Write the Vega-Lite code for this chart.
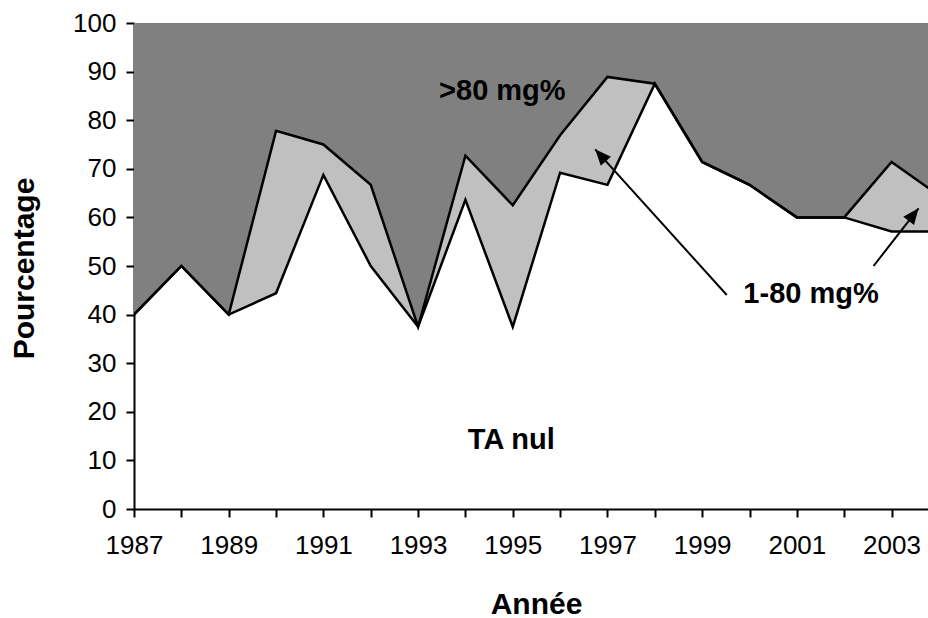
{
  "$schema": "https://vega.github.io/schema/vega-lite/v6.json",
  "width": 794,
  "height": 486,
  "autosize": {"type": "none"},
  "padding": {"left": 134, "top": 23, "right": 0, "bottom": 109},
  "background": "white",
  "config": {
    "view": {"stroke": null},
    "font": "Liberation Sans",
    "axis": {
      "grid": false,
      "domainColor": "black",
      "domainWidth": 2,
      "tickColor": "black",
      "tickWidth": 2,
      "tickSize": 8,
      "labelColor": "black",
      "labelFont": "Liberation Sans",
      "labelFontSize": 26,
      "titleColor": "black",
      "titleFont": "Liberation Sans",
      "titleFontSize": 30,
      "titleFontWeight": "bold",
      "labelOverlap": false,
      "labelFlush": false
    },
    "axisX": {
      "values": [1987, 1988, 1989, 1990, 1991, 1992, 1993, 1994, 1995, 1996, 1997, 1998, 1999, 2000, 2001, 2002, 2003],
      "labelExpr": "datum.value % 2 == 1 ? '' + datum.value : ''",
      "labelPadding": 15,
      "titleX": 402,
      "titleY": 104,
      "titleAlign": "center",
      "titleBaseline": "alphabetic"
    },
    "axisY": {
      "values": [0, 10, 20, 30, 40, 50, 60, 70, 80, 90, 100],
      "labelPadding": 10,
      "titleX": -101,
      "titleY": 245,
      "titleAngle": -90,
      "titleAlign": "center",
      "titleBaseline": "alphabetic"
    }
  },
  "datasets": {
    "series": [
      {"year": 1987, "nul": 40, "mid": 40},
      {"year": 1988, "nul": 50, "mid": 50},
      {"year": 1989, "nul": 40, "mid": 40},
      {"year": 1990, "nul": 44.4, "mid": 77.8},
      {"year": 1991, "nul": 68.75, "mid": 75},
      {"year": 1992, "nul": 50, "mid": 66.7},
      {"year": 1993, "nul": 37.5, "mid": 37.5},
      {"year": 1994, "nul": 63.6, "mid": 72.7},
      {"year": 1995, "nul": 37.5, "mid": 62.5},
      {"year": 1996, "nul": 69.2, "mid": 76.9},
      {"year": 1997, "nul": 66.7, "mid": 88.9},
      {"year": 1998, "nul": 87.5, "mid": 87.5},
      {"year": 1999, "nul": 71.4, "mid": 71.4},
      {"year": 2000, "nul": 66.7, "mid": 66.7},
      {"year": 2001, "nul": 60, "mid": 60},
      {"year": 2002, "nul": 60, "mid": 60},
      {"year": 2003, "nul": 57.1, "mid": 71.4},
      {"year": 2004, "nul": 57.1, "mid": 64.5}
    ],
    "arrows": [
      {"id": "a1", "year": 1999.52, "value": 44.03, "year2": 1996.74, "value2": 74.01},
      {"id": "a2", "year": 2002.62, "value": 50.0, "year2": 2003.57, "value2": 61.87}
    ],
    "labels": [
      {"label": ">80 mg%", "year": 1994.78, "value": 84.16},
      {"label": "TA nul", "year": 1994.97, "value": 12.28},
      {"label": "1-80 mg%", "year": 2001.3, "value": 42.45}
    ]
  },
  "layer": [
    {
      "data": {"name": "series"},
      "mark": {"type": "area", "fill": "#808080", "clip": true},
      "encoding": {
        "x": {"field": "year", "type": "quantitative", "title": "Année", "scale": {"domain": [1987, 2003.77], "nice": false, "zero": false}},
        "y": {"field": "mid", "type": "quantitative", "title": "Pourcentage", "scale": {"domain": [0, 100], "nice": false}},
        "y2": {"datum": 100}
      }
    },
    {
      "data": {"name": "series"},
      "mark": {"type": "area", "fill": "#c0c0c0", "clip": true},
      "encoding": {
        "x": {"field": "year", "type": "quantitative", "title": "Année"},
        "y": {"field": "nul", "type": "quantitative", "title": "Pourcentage"},
        "y2": {"field": "mid"}
      }
    },
    {
      "data": {"name": "series"},
      "mark": {"type": "line", "color": "black", "strokeWidth": 2.5, "clip": true},
      "encoding": {
        "x": {"field": "year", "type": "quantitative", "title": "Année"},
        "y": {"field": "mid", "type": "quantitative", "title": "Pourcentage"}
      }
    },
    {
      "data": {"name": "series"},
      "mark": {"type": "line", "color": "black", "strokeWidth": 2.5, "clip": true},
      "encoding": {
        "x": {"field": "year", "type": "quantitative", "title": "Année"},
        "y": {"field": "nul", "type": "quantitative", "title": "Pourcentage"}
      }
    },
    {
      "mark": {"type": "rule", "color": "black", "strokeWidth": 2},
      "encoding": {"y": {"datum": 100}}
    },
    {
      "data": {"name": "arrows"},
      "mark": {"type": "rule", "color": "black", "strokeWidth": 2},
      "encoding": {
        "x": {"field": "year", "type": "quantitative", "title": "Année"},
        "y": {"field": "value", "type": "quantitative", "title": "Pourcentage"},
        "x2": {"field": "year2"},
        "y2": {"field": "value2"}
      }
    },
    {
      "data": {"name": "arrows"},
      "transform": [{"filter": "datum.id == 'a1'"}],
      "mark": {"type": "point", "shape": "M0,0 L0.85,2 L-0.85,2 Z", "filled": true, "color": "black", "opacity": 1, "size": 256, "angle": 318},
      "encoding": {
        "x": {"field": "year2", "type": "quantitative", "title": "Année"},
        "y": {"field": "value2", "type": "quantitative", "title": "Pourcentage"}
      }
    },
    {
      "data": {"name": "arrows"},
      "transform": [{"filter": "datum.id == 'a2'"}],
      "mark": {"type": "point", "shape": "M0,0 L0.85,2 L-0.85,2 Z", "filled": true, "color": "black", "opacity": 1, "size": 256, "angle": 38},
      "encoding": {
        "x": {"field": "year2", "type": "quantitative", "title": "Année"},
        "y": {"field": "value2", "type": "quantitative", "title": "Pourcentage"}
      }
    },
    {
      "data": {"name": "labels"},
      "mark": {"type": "text", "font": "Liberation Sans", "fontWeight": "bold", "fontSize": 29, "align": "center", "baseline": "alphabetic", "color": "black"},
      "encoding": {
        "x": {"field": "year", "type": "quantitative", "title": "Année"},
        "y": {"field": "value", "type": "quantitative", "title": "Pourcentage"},
        "text": {"field": "label"}
      }
    }
  ]
}
